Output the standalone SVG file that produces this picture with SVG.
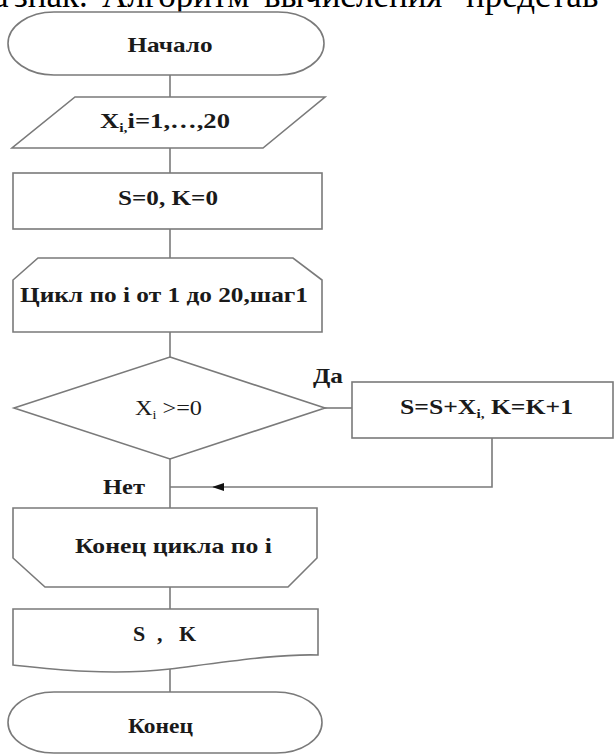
<svg xmlns="http://www.w3.org/2000/svg" width="615" height="755" viewBox="0 0 615 755">
  <style>
    .shape { fill: #ffffff; stroke: #7a7a7a; stroke-width: 1.6; }
    .wire { fill: none; stroke: #7a7a7a; stroke-width: 1.6; }
    .lbl { font-family: "Liberation Serif", "Times New Roman", serif; font-weight: bold; font-size: 22px; fill: #1a1a1a; }
    .plain { font-weight: normal; }
    .sub { font-size: 13px; }
    .head { font-family: "Liberation Serif", "Times New Roman", serif; font-size: 35px; fill: #000000; }
  </style>
  <defs>
    <marker id="arrow" viewBox="0 0 12 8" refX="11" refY="4" markerWidth="12" markerHeight="8" markerUnits="userSpaceOnUse" orient="auto">
      <path d="M0,0 L12,4 L0,8 Z" fill="#111111"/>
    </marker>
  </defs>

  <rect width="615" height="755" fill="#ffffff"/>

  <!-- justified line of surrounding page text, cut by the top edge -->
  <text class="head" y="7"><tspan x="-7">а</tspan><tspan x="14">знак.</tspan><tspan x="102">Алгоритм</tspan><tspan x="264">вычисления</tspan><tspan x="466">представ</tspan></text>

  <!-- connectors -->
  <g id="connectors">
    <line class="wire" x1="170" y1="75" x2="170" y2="97"/>
    <line class="wire" x1="170" y1="148" x2="170" y2="173"/>
    <line class="wire" x1="170" y1="229" x2="170" y2="258"/>
    <line class="wire" x1="170" y1="332" x2="170" y2="357"/>
    <line class="wire" x1="170" y1="458" x2="170" y2="508"/>
    <line class="wire" x1="170" y1="587" x2="170" y2="609"/>
    <line class="wire" x1="170" y1="669" x2="170" y2="692"/>
    <line class="wire" x1="325" y1="408" x2="352" y2="408"/>
    <path class="wire" d="M492,438 V487 H213" marker-end="url(#arrow)"/>
    <line class="wire" x1="213" y1="487" x2="170" y2="487"/>
  </g>

  <g id="start">
    <rect class="shape" x="8" y="12" width="316" height="63" rx="46" ry="31.5"/>
    <text class="lbl" x="170" y="52" text-anchor="middle" textLength="85" lengthAdjust="spacingAndGlyphs">Начало</text>
  </g>

  <g id="input">
    <polygon class="shape" points="75,97 325,97 263,148 12,148"/>
    <text class="lbl" x="100" y="128" textLength="130" lengthAdjust="spacingAndGlyphs">X<tspan class="sub" dy="4">i,</tspan><tspan dy="-4">i=1,…,20</tspan></text>
  </g>

  <g id="init">
    <rect class="shape" x="13" y="173" width="309" height="56"/>
    <text class="lbl" x="118" y="205" textLength="100" lengthAdjust="spacingAndGlyphs">S=0, K=0</text>
  </g>

  <g id="loop-start">
    <polygon class="shape" points="38,258 293,258 322,280 322,332 13,332 13,280"/>
    <text class="lbl" x="20" y="302" textLength="288" lengthAdjust="spacingAndGlyphs">Цикл по i от 1 до 20,шаг1</text>
  </g>

  <g id="check">
    <polygon class="shape" points="170,357 325,408 170,459 14,408"/>
    <text class="lbl plain" x="135" y="415" textLength="67" lengthAdjust="spacingAndGlyphs">X<tspan class="sub" dy="4">i</tspan><tspan dy="-4"> &gt;=0</tspan></text>
  </g>

  <g id="accumulate">
    <rect class="shape" x="352" y="382" width="261" height="56"/>
    <text class="lbl" x="400" y="414" textLength="173" lengthAdjust="spacingAndGlyphs">S=S+X<tspan class="sub" dy="4">i,</tspan><tspan dy="-4"> K=K+1</tspan></text>
  </g>

  <g id="branch-labels">
    <text class="lbl" x="313" y="383" textLength="30" lengthAdjust="spacingAndGlyphs">Да</text>
    <text class="lbl" x="103" y="494" textLength="42" lengthAdjust="spacingAndGlyphs">Нет</text>
  </g>

  <g id="loop-end">
    <polygon class="shape" points="13,508 317,508 317,558 288,587 45,587 13,558"/>
    <text class="lbl" x="75" y="553" textLength="197" lengthAdjust="spacingAndGlyphs">Конец цикла по i</text>
  </g>

  <g id="output">
    <path class="shape" d="M13,609 H318 V655 C280,654 240,660 170,669 C110,676 50,669 13,665 Z"/>
    <text class="lbl" y="641"><tspan x="133">S</tspan><tspan x="157">,</tspan><tspan x="179">K</tspan></text>
  </g>

  <g id="end">
    <rect class="shape" x="8" y="692" width="314" height="61" rx="46" ry="30.5"/>
    <text class="lbl" x="128" y="733" textLength="65" lengthAdjust="spacingAndGlyphs">Конец</text>
  </g>
</svg>
